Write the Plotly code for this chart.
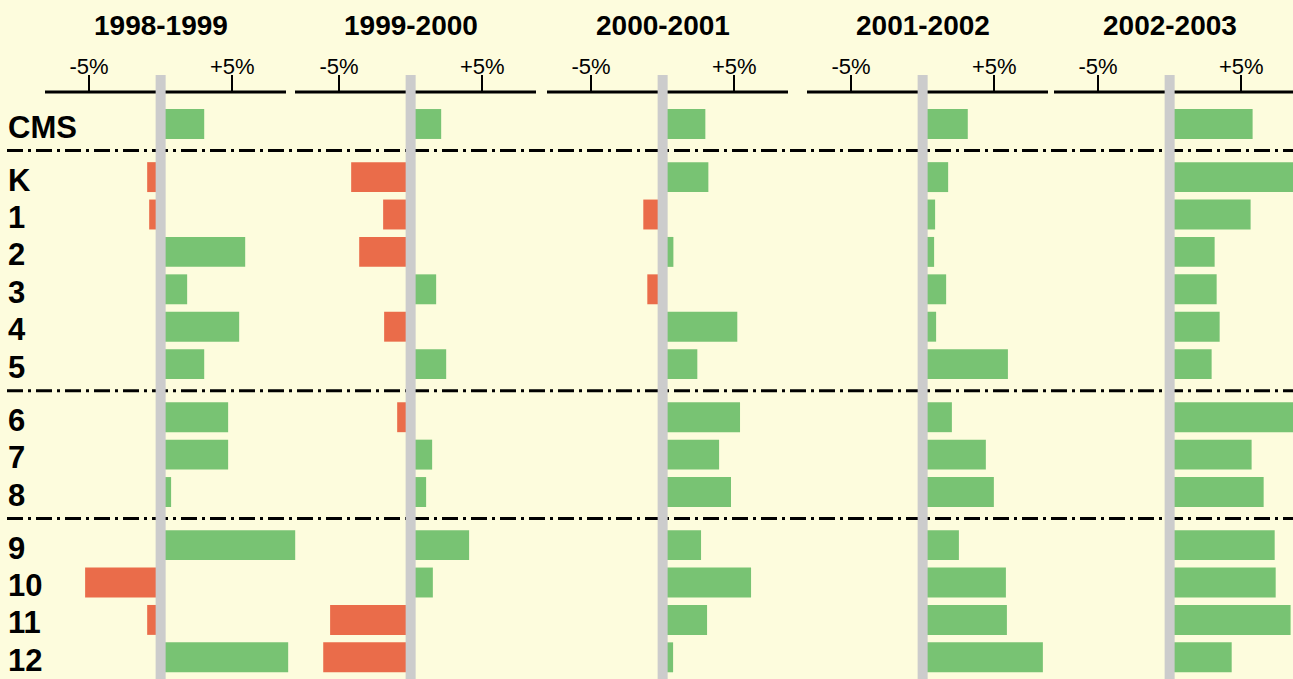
import plotly.graph_objects as go

# ---------------- data ----------------
categories = ["CMS", "K", "1", "2", "3", "4", "5", "6", "7", "8", "9", "10", "11", "12"]
group_of = [0, 1, 1, 1, 1, 1, 1, 2, 2, 2, 3, 3, 3, 3]
years = ["1998-1999", "1999-2000", "2000-2001", "2001-2002", "2002-2003"]

v1998_1999 = [3.04, -0.94, -0.80, 5.90, 1.85, 5.48, 3.04, 4.71, 4.71, 0.73, 9.39, -5.27, -0.94, 8.90]
v1999_2000 = [2.13, -4.15, -1.92, -3.59, 1.78, -1.85, 2.48, -0.94, 1.50, 1.08, 4.08, 1.55, -5.62, -6.10]
v2000_2001 = [2.98, 3.19, -1.35, 0.75, -1.07, 5.21, 2.42, 5.40, 3.94, 4.77, 2.68, 6.17, 3.10, 0.73]
v2001_2002 = [3.15, 1.78, 0.87, 0.80, 1.64, 0.94, 5.95, 2.04, 4.41, 4.97, 2.53, 5.81, 5.88, 8.39]
v2002_2003 = [5.79, 9.40, 5.65, 3.14, 3.28, 3.49, 2.93, 9.00, 5.72, 6.56, 7.33, 7.40, 8.44, 4.33]
series = [v1998_1999, v1999_2000, v2000_2001, v2001_2002, v2002_2003]

tick_vals = [-5, 5]
tick_text = ["-5%", "+5%"]

# ---------------- layout constants ----------------
W, H = 1293, 679
TOP = 93                     # plot top (axis line) in px
ROW_PX = 37.4
FIRST_ROW_PX = 124
GROUP_GAP = 0.42
BAR_W = 0.80
PX_PER_PCT = 14.33
AXIS_MIN = -8.07
AXIS_PX = 241                # visible axis-line length
PLOT_PX = 253                # drawing area width (lets long bars run past the axis line)
PANEL_LEFT_PX = [45, 295, 547, 807, 1054]

BG = "#fdfcdd"
GREEN = "#78c373"
RED = "#ea6c4a"
GREY = "#cccccc"
FONT = "Liberation Sans, Arial, sans-serif"

ypos = [i + g * GROUP_GAP for i, g in enumerate(group_of)]
y_top = (TOP - FIRST_ROW_PX) / ROW_PX
y_bot = y_top + (H - TOP) / ROW_PX

fig = go.Figure()
shapes = []
annotations = []

for p, (yr, vals) in enumerate(zip(years, series)):
    xid = "x" if p == 0 else f"x{p+1}"
    lay = "xaxis" if p == 0 else f"xaxis{p+1}"
    left = PANEL_LEFT_PX[p]
    width_px = min(PLOT_PX, W - left)
    rng = [AXIS_MIN, AXIS_MIN + width_px / PX_PER_PCT]
    fig.add_trace(go.Bar(
        x=vals, y=ypos, orientation="h", xaxis=xid, yaxis="y",
        width=BAR_W, marker=dict(color=[GREEN if v >= 0 else RED for v in vals], line=dict(width=0)),
        cliponaxis=False, showlegend=False, hoverinfo="skip",
    ))
    fig.layout[lay] = dict(
        domain=[left / W, (left + width_px) / W], range=rng, anchor="y", side="top",
        showline=False,
        ticks="outside", ticklen=17, tickwidth=1.5, tickcolor="black",
        tickvals=tick_vals, ticktext=tick_text, ticklabelstandoff=-8,
        tickfont=dict(family=FONT, size=22, color="black"),
        showgrid=False, zeroline=False, fixedrange=True,
    )
    # axis line (limited length)
    shapes.append(dict(type="line", xref=xid, yref="paper",
                       x0=AXIS_MIN, x1=AXIS_MIN + min(AXIS_PX, W - left) / PX_PER_PCT,
                       y0=1 + 1.0 / (H - TOP), y1=1 + 1.0 / (H - TOP),
                       line=dict(color="black", width=3), layer="above"))
    # zero line (grey)
    shapes.append(dict(type="line", xref=xid, yref="paper", x0=0, x1=0,
                       y0=0, y1=1 + (TOP - 75) / (H - TOP),
                       line=dict(color=GREY, width=10), layer="above"))
    annotations.append(dict(text=f"<b>{yr}</b>", xref=xid, yref="paper", x=0,
                            y=1 + (TOP - 25.5) / (H - TOP), xanchor="center", yanchor="middle",
                            showarrow=False, font=dict(family=FONT, size=28, color="black")))

# group separators
for g in range(1, max(group_of) + 1):
    idx = group_of.index(g)
    ysep = (ypos[idx - 1] + ypos[idx]) / 2
    shapes.append(dict(type="line", xref="paper", yref="y", x0=7 / W, x1=1, y0=ysep, y1=ysep,
                       line=dict(color="black", width=3, dash="16px,5px,3px,5px"), layer="below"))

# row labels
for c, yv in zip(categories, ypos):
    annotations.append(dict(text=f"<b>{c}</b>", xref="paper", yref="y", x=6 / W, y=yv,
                            xanchor="left", yanchor="middle", yshift=-3, showarrow=False,
                            font=dict(family=FONT, size=31, color="black")))

fig.update_layout(
    width=W, height=H, margin=dict(l=0, r=0, t=TOP, b=0),
    paper_bgcolor=BG, plot_bgcolor="rgba(0,0,0,0)",
    yaxis=dict(range=[y_bot, y_top], visible=False, fixedrange=True, domain=[0, 1]),
    shapes=shapes, annotations=annotations, barmode="overlay",
    showlegend=False,
)

fig.write_html("out.html", config={"displayModeBar": False},
               post_script="document.body.style.margin='0px';document.body.style.overflow='hidden';")
